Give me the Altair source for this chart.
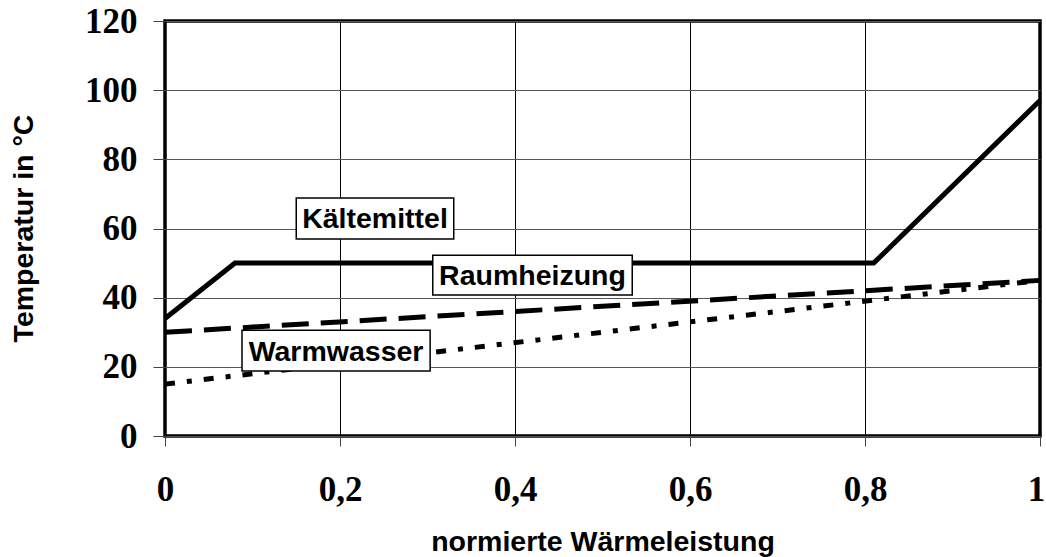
import altair as alt
import pandas as pd

# Kältemittel (refrigerant) temperature profile
x_kaelte = [0.0, 0.08, 0.81, 1.0]
t_kaelte = [34, 50, 50, 97]

# Raumheizung (space heating) water temperature
x_raum = [0.0, 1.0]
t_raum = [30, 45]

# Warmwasser (domestic hot water) temperature
x_warm = [0.0, 1.0]
t_warm = [15, 45]

# Boxed series labels (data coordinates of each box)
label_names = ["Kältemittel", "Raumheizung", "Warmwasser"]
label_x0 = [0.150, 0.306, 0.088]
label_x1 = [0.330, 0.534, 0.303]
label_t0 = [57.0, 40.8, 18.8]
label_t1 = [68.8, 52.3, 30.6]

x_ticks = [0.0, 0.2, 0.4, 0.6, 0.8, 1.0]
y_ticks = [0, 20, 40, 60, 80, 100, 120]

SERIF = "Liberation Serif"
SANS = "Liberation Sans"
SANS_SIZE = 28.5

kaelte = pd.DataFrame({"x": x_kaelte, "t": t_kaelte})
raum = pd.DataFrame({"x": x_raum, "t": t_raum})
warm = pd.DataFrame({"x": x_warm, "t": t_warm})
labels = pd.DataFrame({
    "name": label_names,
    "x0": label_x0, "x1": label_x1,
    "t0": label_t0, "t1": label_t1,
})
labels["xm"] = (labels["x0"] + labels["x1"]) / 2
labels["tm"] = (labels["t0"] + labels["t1"]) / 2

x_scale = alt.Scale(domain=[0, 1], nice=False, zero=False)
y_scale = alt.Scale(domain=[0, 120], nice=False)

x_axis = alt.Axis(
    values=x_ticks,
    labelExpr="replace(format(datum.value, '~g'), '.', ',')",
    title="normierte Wärmeleistung",
    titleFont=SANS, titleFontSize=SANS_SIZE, titleFontWeight="bold",
    titleX=437.5, titleY=114, titleBaseline="alphabetic",
    labelFont=SERIF, labelFontSize=35, labelFontWeight="bold",
    labelPadding=26, labelColor="black",
    # keep the last label inside the canvas
    labelOffset={"condition": {"test": "datum.value == 1", "value": -4}, "value": 0},
    tickSize=10, tickColor="#444", tickWidth=1,
    grid=True, gridColor="black", gridWidth=1,
    domain=False, labelFlush=False, labelOverlap=False,
)
y_axis = alt.Axis(
    values=y_ticks,
    title="Temperatur in °C",
    titleFont=SANS, titleFontSize=SANS_SIZE, titleFontWeight="bold",
    titleAngle=-90, titleBaseline="middle",
    titleX=-141.5, titleY=207,
    labelFont=SERIF, labelFontSize=35, labelFontWeight="bold",
    labelPadding=16, labelColor="black",
    tickSize=12, tickColor="#444", tickWidth=1,
    grid=True, gridColor="#555", gridWidth=1,
    domain=False, labelFlush=False, labelOverlap=False,
)

x_enc = alt.X("x:Q", scale=x_scale, axis=x_axis)
y_enc = alt.Y("t:Q", scale=y_scale, axis=y_axis)

line_kaelte = alt.Chart(kaelte).mark_line(
    color="black", strokeWidth=5, strokeJoin="miter"
).encode(x=x_enc, y=y_enc)

line_raum = alt.Chart(raum).mark_line(
    color="black", strokeWidth=5, strokeDash=[27, 12]
).encode(x=x_enc, y=y_enc)

line_warm = alt.Chart(warm).mark_line(
    color="black", strokeWidth=5, strokeDash=[10, 12, 5, 12]
).encode(x=x_enc, y=y_enc)

boxes = alt.Chart(labels).mark_rect(
    fill="white", stroke="black", strokeWidth=1.5
).encode(
    x=alt.X("x0:Q", scale=x_scale),
    x2="x1:Q",
    y=alt.Y("t0:Q", scale=y_scale),
    y2="t1:Q",
)

texts = alt.Chart(labels).mark_text(
    font=SANS, fontSize=SANS_SIZE, fontWeight="bold", color="black",
    align="center", baseline="middle", dy=1,
).encode(
    x=alt.X("xm:Q", scale=x_scale),
    y=alt.Y("tm:Q", scale=y_scale),
    text="name:N",
)

chart = alt.layer(
    line_kaelte, line_raum, line_warm, boxes, texts
).properties(
    width=875,
    height=415,
    padding={"left": 165, "top": 21, "right": 6, "bottom": 121},
    autosize=alt.AutoSizeParams(type="none"),
    background="white",
).configure_view(
    stroke="black", strokeWidth=3.5
)

chart.save("out.html", embed_options={"renderer": "svg", "actions": False})
